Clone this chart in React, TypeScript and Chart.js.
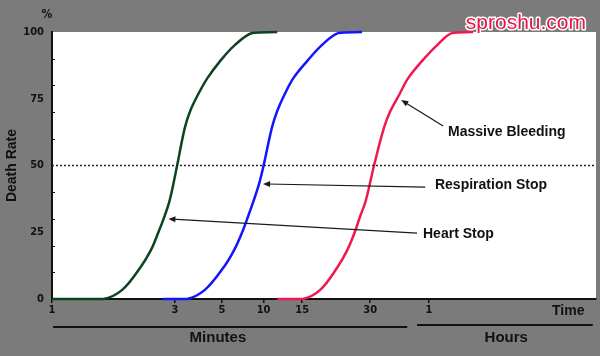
import React, { useEffect, useRef } from 'react';
import { Chart, registerables } from 'chart.js';

Chart.register(...registerables);

// Axis definition (x axis is a hand-drawn, non-uniform time axis expressed in axis units 0..100)
const xTickUnits = [0, 22.6, 31.25, 38.9, 46.0, 58.5, 69.3];
const xTickLabels = ['1', '3', '5', '10', '15', '30', '1'];
const yTickValues = [0, 25, 50, 75, 100];
const yMinorValues = [10, 20, 30, 40, 60, 70, 80, 90];

// Heart stop curve (dark green)
const heartX = [0, 9.4, 12.9, 16.3, 18.2, 19.5, 20.6, 21.5, 22.2, 23.0, 24.4, 25.4, 26.8, 28.6, 30.9, 33.6, 36.8, 41.4];
const heartY = [0, 0, 3.4, 12, 18.4, 24.7, 30.5, 36, 42, 50, 64, 70.4, 76.4, 82.8, 89.1, 95.1, 99.6, 100];

// Respiration stop curve (blue)
const respX = [20.4, 24.8, 28.1, 31.6, 33.5, 34.9, 36.0, 37.1, 38.1, 38.9, 40.4, 41.4, 42.7, 44.4, 46.9, 49.6, 52.6, 57.0];
const respY = [0, 0, 3.4, 12, 18.4, 24.7, 30.7, 37, 43.4, 50, 64, 70.4, 76.4, 82.8, 89.1, 95.1, 99.6, 100];

// Massive bleeding curve (red)
const bleedX = [41.4, 46.1, 49.3, 52.5, 54.3, 55.6, 56.6, 57.7, 59.2, 61.0, 62.2, 63.8, 65.5, 68.0, 70.8, 73.5, 77.4];
const bleedY = [0, 0, 3.4, 12, 18.4, 24.7, 30.7, 37, 50, 64, 70.4, 76.4, 82.8, 89.1, 95.1, 99.6, 100];

const referenceLevel = 50;

const annotationLabels = ['Massive Bleeding', 'Respiration Stop', 'Heart Stop'];
const annotationTips = [
  { x: 64.2, y: 74.5 },
  { x: 38.8, y: 43.1 },
  { x: 21.4, y: 30.0 },
];
const annotationTails = [
  { x: 71.9, y: 64.8 },
  { x: 68.6, y: 41.9 },
  { x: 67.1, y: 24.7 },
];
const annotationTextAnchors = [
  { x: 72.8, y: 62.4 },
  { x: 70.4, y: 42.7 },
  { x: 68.2, y: 24.3 },
];

const groupLabels = ['Minutes', 'Hours'];
const groupRanges = [
  { from: 0.2, to: 65.3, center: 30.5 },
  { from: 67.1, to: 99.4, center: 83.5 },
];

const toPoints = (xs: number[], ys: number[]) => xs.map((x, i) => ({ x, y: ys[i] }));

const BOLD = 'bold 14px "Liberation Sans", Arial, sans-serif';
const NARROW = '"Liberation Sans Narrow", "DejaVu Sans Condensed", "Liberation Sans", sans-serif';

const decorPlugin = {
  id: 'decor',
  beforeDraw(chart: any) {
    const { ctx, chartArea } = chart;
    ctx.save();
    ctx.fillStyle = '#7b7b7b';
    ctx.fillRect(0, 0, chart.width, chart.height);
    ctx.fillStyle = '#ffffff';
    ctx.fillRect(chartArea.left, chartArea.top, chartArea.right - chartArea.left, chartArea.bottom - chartArea.top);
    ctx.restore();
  },
  afterDraw(chart: any) {
    const { ctx, chartArea } = chart;
    const xs = chart.scales.x;
    const ys = chart.scales.y;
    ctx.save();

    // minor marks on y axis
    ctx.strokeStyle = '#111';
    ctx.lineWidth = 1;
    yMinorValues.forEach((v) => {
      const py = Math.round(ys.getPixelForValue(v)) + 0.5;
      ctx.beginPath();
      ctx.moveTo(chartArea.left, py);
      ctx.lineTo(chartArea.left + 3, py);
      ctx.stroke();
    });

    // annotations
    ctx.strokeStyle = '#1a1a1a';
    ctx.fillStyle = '#1a1a1a';
    ctx.lineWidth = 1.2;
    annotationLabels.forEach((label, i) => {
      const tx = xs.getPixelForValue(annotationTips[i].x);
      const ty = ys.getPixelForValue(annotationTips[i].y);
      const sx = xs.getPixelForValue(annotationTails[i].x);
      const sy = ys.getPixelForValue(annotationTails[i].y);
      const ang = Math.atan2(ty - sy, tx - sx);
      ctx.beginPath();
      ctx.moveTo(sx, sy);
      ctx.lineTo(tx - Math.cos(ang) * 4, ty - Math.sin(ang) * 4);
      ctx.stroke();
      const hl = 7, hw = 3;
      ctx.beginPath();
      ctx.moveTo(tx, ty);
      ctx.lineTo(tx - Math.cos(ang) * hl - Math.sin(ang) * hw, ty - Math.sin(ang) * hl + Math.cos(ang) * hw);
      ctx.lineTo(tx - Math.cos(ang) * hl + Math.sin(ang) * hw, ty - Math.sin(ang) * hl - Math.cos(ang) * hw);
      ctx.closePath();
      ctx.fill();
      ctx.font = BOLD;
      ctx.textAlign = 'left';
      ctx.textBaseline = 'middle';
      ctx.fillStyle = '#111';
      ctx.fillText(label, xs.getPixelForValue(annotationTextAnchors[i].x), ys.getPixelForValue(annotationTextAnchors[i].y));
      ctx.fillStyle = '#1a1a1a';
    });

    // "%" marker above the y axis
    ctx.fillStyle = '#111';
    ctx.font = 'bold 12px ' + NARROW;
    ctx.textAlign = 'center';
    ctx.textBaseline = 'middle';
    ctx.fillText('%', chartArea.left - 5, chartArea.top - 17);

    // Time label
    ctx.font = BOLD;
    ctx.fillText('Time', xs.getPixelForValue(94.9), chartArea.bottom + 12);

    // group brackets
    ctx.lineWidth = 2;
    ctx.strokeStyle = '#111';
    groupLabels.forEach((g, i) => {
      const r = groupRanges[i];
      const ly = chartArea.bottom + (i === 0 ? 28 : 26);
      ctx.beginPath();
      ctx.moveTo(xs.getPixelForValue(r.from), ly);
      ctx.lineTo(xs.getPixelForValue(r.to), ly);
      ctx.stroke();
      ctx.font = 'bold 15px "Liberation Sans", Arial, sans-serif';
      ctx.fillText(g, xs.getPixelForValue(r.center), chartArea.bottom + 39);
    });

    // watermark
    ctx.font = '21px "Liberation Sans", Arial, sans-serif';
    ctx.textAlign = 'right';
    ctx.textBaseline = 'alphabetic';
    ctx.lineJoin = 'round';
    ctx.lineWidth = 3;
    ctx.strokeStyle = '#ffffff';
    ctx.strokeText('sproshu.com', 586, 29);
    ctx.fillStyle = '#e8174a';
    ctx.fillText('sproshu.com', 586, 29);

    ctx.restore();
  },
};

export default function App() {
  const ref = useRef<HTMLCanvasElement | null>(null);

  useEffect(() => {
    if (!ref.current) return;
    const curve = { borderWidth: 2.5, pointRadius: 0, tension: 0.35, clip: false };
    const chart = new Chart(ref.current, {
      type: 'line',
      data: {
        datasets: [
          {
            label: 'Reference',
            data: [{ x: 0, y: referenceLevel }, { x: 100, y: referenceLevel }],
            borderColor: '#222',
            borderWidth: 1.5,
            borderDash: [2, 2],
            pointRadius: 0,
          },
          { label: 'Heart Stop', data: toPoints(heartX, heartY), borderColor: '#0c4420', ...curve },
          { label: 'Respiration Stop', data: toPoints(respX, respY), borderColor: '#1414ff', ...curve },
          { label: 'Massive Bleeding', data: toPoints(bleedX, bleedY), borderColor: '#f01850', ...curve },
        ],
      },
      options: {
        animation: false,
        responsive: false,
        layout: { padding: { top: 32, right: 4, left: 0, bottom: 0 } },
        plugins: { legend: { display: false }, tooltip: { enabled: false } },
        scales: {
          x: {
            type: 'linear',
            min: 0,
            max: 100,
            afterBuildTicks: (scale: any) => {
              scale.ticks = xTickUnits.map((v) => ({ value: v }));
            },
            afterFit: (scale: any) => {
              scale.height = 57;
            },
            border: { display: true, color: '#111', width: 2 },
            grid: { drawOnChartArea: false, tickLength: 4, tickColor: '#111', lineWidth: 1.5 },
            ticks: {
              autoSkip: false,
              maxRotation: 0,
              padding: 1,
              color: '#111',
              font: { family: NARROW, size: 11, weight: 'bold' },
              callback: (_v: any, i: number) => xTickLabels[i],
            },
          },
          y: {
            type: 'linear',
            min: 0,
            max: 100,
            afterBuildTicks: (scale: any) => {
              scale.ticks = yTickValues.map((v) => ({ value: v }));
            },
            afterFit: (scale: any) => {
              scale.width = 52;
            },
            border: { display: true, color: '#111', width: 2 },
            grid: { drawOnChartArea: false, drawTicks: false },
            ticks: {
              padding: 8,
              color: '#111',
              font: { family: NARROW, size: 11, weight: 'bold' },
            },
            title: {
              display: true,
              text: 'Death Rate',
              color: '#111',
              font: { family: '"Liberation Sans", Arial, sans-serif', size: 14, weight: 'bold' },
              padding: { top: 4, bottom: 4 },
            },
          },
        },
      } as any,
      plugins: [decorPlugin],
    });
    return () => chart.destroy();
  }, []);

  return (
    <div style={{ position: 'fixed', left: 0, top: 0, width: 600, height: 356 }}>
      <canvas ref={ref} width={600} height={356} style={{ display: 'block', width: 600, height: 356 }} />
    </div>
  );
}
